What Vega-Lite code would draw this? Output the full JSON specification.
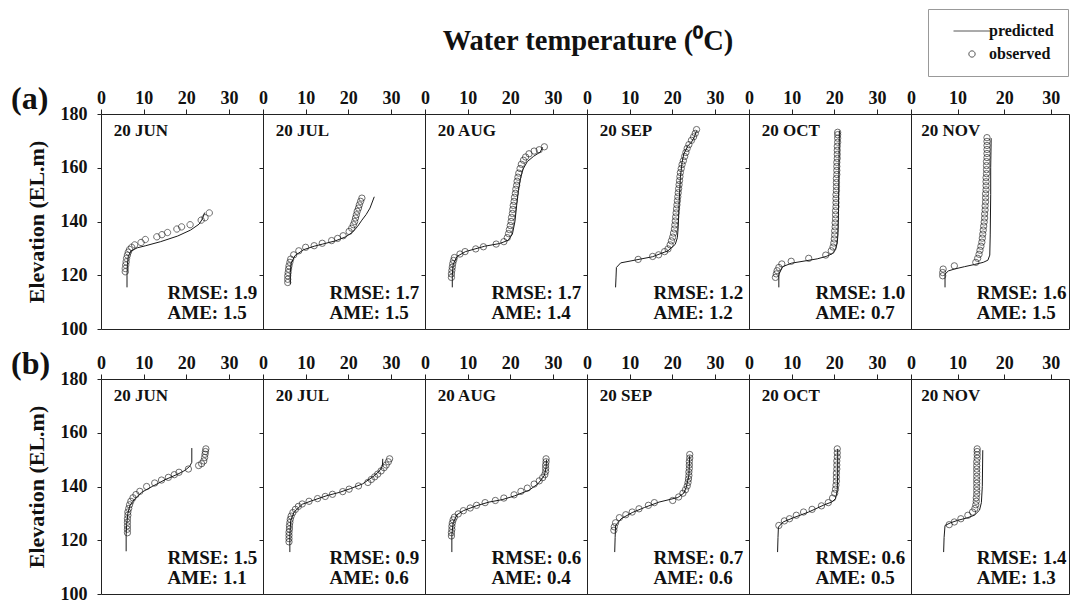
{
"$schema":"https://vega.github.io/schema/vega-lite/v6.json",
"background":"white",
"padding":{"left":10,"top":8,"right":0,"bottom":0},
"title":{"text":"Water temperature (⁰C)","fontSize":28.5,"font":"Liberation Serif","fontWeight":"bold","color":"#111","anchor":"middle","dx":48,"offset":-47},
"datasets":{
"aJUN":[
{"type":"obs","temp":5.7,"elev":121.3},{"type":"obs","temp":5.7,"elev":122.5},{"type":"obs","temp":5.8,"elev":123.8},{"type":"obs","temp":5.9,"elev":125},{"type":"obs","temp":6.0,"elev":126.3},{"type":"obs","temp":6.2,"elev":127.5},{"type":"obs","temp":6.4,"elev":128.6},{"type":"obs","temp":6.7,"elev":129.6},{"type":"obs","temp":7.2,"elev":130.4},{"type":"obs","temp":7.9,"elev":131.3},{"type":"obs","temp":9.4,"elev":132.2},{"type":"obs","temp":10.4,"elev":133.3},{"type":"obs","temp":13.1,"elev":134.3},{"type":"obs","temp":14.3,"elev":135.1},{"type":"obs","temp":15.6,"elev":135.9},{"type":"obs","temp":17.8,"elev":137.2},{"type":"obs","temp":18.9,"elev":138},{"type":"obs","temp":20.9,"elev":138.8},{"type":"obs","temp":23.5,"elev":140.5},{"type":"obs","temp":24.4,"elev":141.4},{"type":"obs","temp":25.4,"elev":143.2},
{"type":"pred","temp":6.1,"elev":115.5},{"type":"pred","temp":6.1,"elev":120},{"type":"pred","temp":6.2,"elev":124},{"type":"pred","temp":6.4,"elev":127},{"type":"pred","temp":7,"elev":129},{"type":"pred","temp":8.5,"elev":130.2},{"type":"pred","temp":10.5,"elev":131},{"type":"pred","temp":14,"elev":132.5},{"type":"pred","temp":18,"elev":134.6},{"type":"pred","temp":21,"elev":136.8},{"type":"pred","temp":23,"elev":139},{"type":"pred","temp":23.8,"elev":141},{"type":"pred","temp":24.3,"elev":143.3},
{"type":"label","month":"20 JUN","rmse":"RMSE: 1.9","ame":"AME: 1.5"}],
"aJUL":[
{"type":"obs","temp":5.8,"elev":117.3},{"type":"obs","temp":5.8,"elev":118.5},{"type":"obs","temp":5.8,"elev":119.8},{"type":"obs","temp":5.9,"elev":121},{"type":"obs","temp":6.0,"elev":122.3},{"type":"obs","temp":6.1,"elev":123.5},{"type":"obs","temp":6.3,"elev":124.8},{"type":"obs","temp":6.5,"elev":126},{"type":"obs","temp":7.2,"elev":127.6},{"type":"obs","temp":8.4,"elev":129.1},{"type":"obs","temp":10,"elev":130.4},{"type":"obs","temp":12,"elev":131},{"type":"obs","temp":13.9,"elev":131.9},{"type":"obs","temp":16.1,"elev":132.9},{"type":"obs","temp":17.5,"elev":133.7},{"type":"obs","temp":18.8,"elev":134.7},{"type":"obs","temp":20.2,"elev":136.3},{"type":"obs","temp":20.8,"elev":137.5},{"type":"obs","temp":21.2,"elev":138.8},{"type":"obs","temp":21.5,"elev":140},{"type":"obs","temp":21.7,"elev":141.3},{"type":"obs","temp":21.9,"elev":142.5},{"type":"obs","temp":22.1,"elev":143.8},{"type":"obs","temp":22.4,"elev":145},{"type":"obs","temp":22.6,"elev":146.2},{"type":"obs","temp":22.9,"elev":147.5},{"type":"obs","temp":23.2,"elev":148.7},
{"type":"pred","temp":6.4,"elev":116.7},{"type":"pred","temp":6.4,"elev":121},{"type":"pred","temp":6.6,"elev":124.5},{"type":"pred","temp":7.5,"elev":127.3},{"type":"pred","temp":9.5,"elev":129.5},{"type":"pred","temp":12,"elev":130.8},{"type":"pred","temp":14,"elev":131.6},{"type":"pred","temp":17,"elev":132.8},{"type":"pred","temp":19.4,"elev":134.3},{"type":"pred","temp":21,"elev":136},{"type":"pred","temp":22.2,"elev":138.2},{"type":"pred","temp":23.2,"elev":140.5},{"type":"pred","temp":24.2,"elev":142.6},{"type":"pred","temp":25.1,"elev":145},{"type":"pred","temp":26.1,"elev":149.2},
{"type":"label","month":"20 JUL","rmse":"RMSE: 1.7","ame":"AME: 1.5"}],
"aAUG":[
{"type":"obs","temp":6.2,"elev":119.2},{"type":"obs","temp":6.2,"elev":120.5},{"type":"obs","temp":6.3,"elev":121.8},{"type":"obs","temp":6.4,"elev":123},{"type":"obs","temp":6.5,"elev":124.3},{"type":"obs","temp":6.7,"elev":125.5},{"type":"obs","temp":6.9,"elev":126.6},{"type":"obs","temp":8.2,"elev":127.9},{"type":"obs","temp":9.4,"elev":128.8},{"type":"obs","temp":11.9,"elev":129.8},{"type":"obs","temp":13.7,"elev":130.6},{"type":"obs","temp":16.7,"elev":131.6},{"type":"obs","temp":18.5,"elev":132.5},{"type":"obs","temp":19.3,"elev":134},{"type":"obs","temp":19.6,"elev":135.5},{"type":"obs","temp":19.8,"elev":137},{"type":"obs","temp":20,"elev":138.5},{"type":"obs","temp":20.2,"elev":140},{"type":"obs","temp":20.3,"elev":141.5},{"type":"obs","temp":20.5,"elev":143},{"type":"obs","temp":20.6,"elev":144.5},{"type":"obs","temp":20.7,"elev":146},{"type":"obs","temp":20.9,"elev":147.5},{"type":"obs","temp":21,"elev":149},{"type":"obs","temp":21.2,"elev":150.5},{"type":"obs","temp":21.3,"elev":152},{"type":"obs","temp":21.5,"elev":153.5},{"type":"obs","temp":21.6,"elev":155},{"type":"obs","temp":21.8,"elev":156.5},{"type":"obs","temp":22,"elev":158},{"type":"obs","temp":22.3,"elev":159.7},{"type":"obs","temp":22.6,"elev":161.3},{"type":"obs","temp":23.1,"elev":162.8},{"type":"obs","temp":23.6,"elev":164},{"type":"obs","temp":24.4,"elev":165.2},{"type":"obs","temp":25.6,"elev":166.2},{"type":"obs","temp":26.8,"elev":166.7},{"type":"obs","temp":28,"elev":167.8},
{"type":"pred","temp":6.4,"elev":115.5},{"type":"pred","temp":6.4,"elev":120},{"type":"pred","temp":6.6,"elev":124},{"type":"pred","temp":7.5,"elev":127},{"type":"pred","temp":9.5,"elev":128.8},{"type":"pred","temp":14,"elev":130.8},{"type":"pred","temp":17.5,"elev":131.8},{"type":"pred","temp":19.5,"elev":133},{"type":"pred","temp":20.5,"elev":135.3},{"type":"pred","temp":21.1,"elev":140},{"type":"pred","temp":21.5,"elev":146},{"type":"pred","temp":21.9,"elev":151.5},{"type":"pred","temp":22.4,"elev":156},{"type":"pred","temp":23,"elev":159.5},{"type":"pred","temp":24,"elev":162.3},{"type":"pred","temp":25.5,"elev":164.3},{"type":"pred","temp":27,"elev":165.8},{"type":"pred","temp":27.6,"elev":167.6},
{"type":"label","month":"20 AUG","rmse":"RMSE: 1.7","ame":"AME: 1.4"}],
"aSEP":[
{"type":"obs","temp":12,"elev":125.9},{"type":"obs","temp":15.4,"elev":127},{"type":"obs","temp":16.8,"elev":127.6},{"type":"obs","temp":18.2,"elev":128.8},{"type":"obs","temp":19,"elev":129.8},{"type":"obs","temp":19.5,"elev":131.3},{"type":"obs","temp":19.8,"elev":132.8},{"type":"obs","temp":20.1,"elev":134.2},{"type":"obs","temp":20.3,"elev":135.7},{"type":"obs","temp":20.5,"elev":137.2},{"type":"obs","temp":20.6,"elev":138.7},{"type":"obs","temp":20.7,"elev":140.2},{"type":"obs","temp":20.8,"elev":141.7},{"type":"obs","temp":20.9,"elev":143.2},{"type":"obs","temp":21,"elev":144.7},{"type":"obs","temp":21.1,"elev":146.2},{"type":"obs","temp":21.2,"elev":147.7},{"type":"obs","temp":21.3,"elev":149.2},{"type":"obs","temp":21.4,"elev":150.7},{"type":"obs","temp":21.5,"elev":152.2},{"type":"obs","temp":21.6,"elev":153.7},{"type":"obs","temp":21.7,"elev":155.2},{"type":"obs","temp":21.8,"elev":156.7},{"type":"obs","temp":21.9,"elev":158.2},{"type":"obs","temp":22.1,"elev":159.7},{"type":"obs","temp":22.3,"elev":161.2},{"type":"obs","temp":22.6,"elev":162.6},{"type":"obs","temp":22.9,"elev":164.2},{"type":"obs","temp":23.2,"elev":165.7},{"type":"obs","temp":23.5,"elev":167.2},{"type":"obs","temp":23.9,"elev":168.6},{"type":"obs","temp":24.5,"elev":170.2},{"type":"obs","temp":25,"elev":171.5},{"type":"obs","temp":25.4,"elev":172.8},{"type":"obs","temp":25.7,"elev":174.2},
{"type":"pred","temp":6.7,"elev":115.5},{"type":"pred","temp":6.8,"elev":119},{"type":"pred","temp":6.9,"elev":122.9},{"type":"pred","temp":7.9,"elev":124.6},{"type":"pred","temp":11.5,"elev":125.7},{"type":"pred","temp":15.4,"elev":126.9},{"type":"pred","temp":19,"elev":129.1},{"type":"pred","temp":20.7,"elev":131.5},{"type":"pred","temp":21.2,"elev":134},{"type":"pred","temp":21.4,"elev":138},{"type":"pred","temp":21.6,"elev":146.5},{"type":"pred","temp":21.9,"elev":156.4},{"type":"pred","temp":22.3,"elev":162},{"type":"pred","temp":22.7,"elev":165.1},{"type":"pred","temp":23.7,"elev":168.2},{"type":"pred","temp":24.5,"elev":169.5},{"type":"pred","temp":25.2,"elev":171.5},{"type":"pred","temp":25.7,"elev":173.8},
{"type":"label","month":"20 SEP","rmse":"RMSE: 1.2","ame":"AME: 1.2"}],
"aOCT":[
{"type":"obs","temp":6.2,"elev":119.2},{"type":"obs","temp":6.4,"elev":120.5},{"type":"obs","temp":6.6,"elev":121.7},{"type":"obs","temp":7,"elev":122.9},{"type":"obs","temp":7.7,"elev":124.2},{"type":"obs","temp":9.9,"elev":125.2},{"type":"obs","temp":14,"elev":126.3},{"type":"obs","temp":18,"elev":127.5},{"type":"obs","temp":19.3,"elev":129.1},{"type":"obs","temp":19.7,"elev":130.5},{"type":"obs","temp":19.9,"elev":132},{"type":"obs","temp":20,"elev":133.5},{"type":"obs","temp":20.1,"elev":135},{"type":"obs","temp":20.1,"elev":136.5},{"type":"obs","temp":20.2,"elev":138},{"type":"obs","temp":20.2,"elev":139.5},{"type":"obs","temp":20.3,"elev":141},{"type":"obs","temp":20.3,"elev":142.5},{"type":"obs","temp":20.3,"elev":144},{"type":"obs","temp":20.4,"elev":145.5},{"type":"obs","temp":20.4,"elev":147},{"type":"obs","temp":20.4,"elev":148.5},{"type":"obs","temp":20.4,"elev":150},{"type":"obs","temp":20.5,"elev":151.5},{"type":"obs","temp":20.5,"elev":153},{"type":"obs","temp":20.5,"elev":154.5},{"type":"obs","temp":20.5,"elev":156},{"type":"obs","temp":20.6,"elev":157.5},{"type":"obs","temp":20.6,"elev":159},{"type":"obs","temp":20.6,"elev":160.5},{"type":"obs","temp":20.6,"elev":162},{"type":"obs","temp":20.7,"elev":163.5},{"type":"obs","temp":20.7,"elev":165},{"type":"obs","temp":20.7,"elev":166.5},{"type":"obs","temp":20.7,"elev":168},{"type":"obs","temp":20.8,"elev":169.5},{"type":"obs","temp":20.8,"elev":171},{"type":"obs","temp":20.8,"elev":172.3},{"type":"obs","temp":20.8,"elev":173.2},
{"type":"pred","temp":7,"elev":115.5},{"type":"pred","temp":7,"elev":120.4},{"type":"pred","temp":7.9,"elev":123.2},{"type":"pred","temp":10,"elev":124.5},{"type":"pred","temp":13.4,"elev":125.4},{"type":"pred","temp":16,"elev":126.1},{"type":"pred","temp":18.1,"elev":127},{"type":"pred","temp":19.5,"elev":128},{"type":"pred","temp":20.3,"elev":129.5},{"type":"pred","temp":20.7,"elev":132},{"type":"pred","temp":20.9,"elev":136},{"type":"pred","temp":21,"elev":145},{"type":"pred","temp":21.1,"elev":160},{"type":"pred","temp":21.2,"elev":173.8},
{"type":"label","month":"20 OCT","rmse":"RMSE: 1.0","ame":"AME: 0.7"}],
"aNOV":[
{"type":"obs","temp":6.8,"elev":119.8},{"type":"obs","temp":6.8,"elev":121},{"type":"obs","temp":6.9,"elev":122.3},{"type":"obs","temp":9.3,"elev":123.5},{"type":"obs","temp":13.9,"elev":124.8},{"type":"obs","temp":14.3,"elev":126.3},{"type":"obs","temp":14.6,"elev":127.8},{"type":"obs","temp":14.8,"elev":129.3},{"type":"obs","temp":15,"elev":130.8},{"type":"obs","temp":15.2,"elev":132.3},{"type":"obs","temp":15.3,"elev":133.8},{"type":"obs","temp":15.4,"elev":135.3},{"type":"obs","temp":15.5,"elev":136.8},{"type":"obs","temp":15.6,"elev":138.3},{"type":"obs","temp":15.7,"elev":139.8},{"type":"obs","temp":15.8,"elev":141.3},{"type":"obs","temp":15.8,"elev":142.8},{"type":"obs","temp":15.9,"elev":144.3},{"type":"obs","temp":15.9,"elev":145.8},{"type":"obs","temp":16,"elev":147.3},{"type":"obs","temp":16,"elev":148.8},{"type":"obs","temp":16,"elev":150.3},{"type":"obs","temp":16.1,"elev":151.8},{"type":"obs","temp":16.1,"elev":153.3},{"type":"obs","temp":16.1,"elev":154.8},{"type":"obs","temp":16.1,"elev":156.3},{"type":"obs","temp":16.2,"elev":157.8},{"type":"obs","temp":16.2,"elev":159.3},{"type":"obs","temp":16.2,"elev":160.8},{"type":"obs","temp":16.2,"elev":162.3},{"type":"obs","temp":16.3,"elev":163.8},{"type":"obs","temp":16.3,"elev":165.3},{"type":"obs","temp":16.3,"elev":166.8},{"type":"obs","temp":16.3,"elev":168.3},{"type":"obs","temp":16.3,"elev":169.8},{"type":"obs","temp":16.3,"elev":171.2},
{"type":"pred","temp":7.3,"elev":115.5},{"type":"pred","temp":7.3,"elev":120.4},{"type":"pred","temp":8,"elev":121.6},{"type":"pred","temp":9.3,"elev":122.3},{"type":"pred","temp":11.5,"elev":123.2},{"type":"pred","temp":13.6,"elev":124},{"type":"pred","temp":15.5,"elev":124.8},{"type":"pred","temp":16.5,"elev":125.6},{"type":"pred","temp":16.9,"elev":127.5},{"type":"pred","temp":17,"elev":135},{"type":"pred","temp":17.1,"elev":150},{"type":"pred","temp":17.1,"elev":160},{"type":"pred","temp":17.2,"elev":171},
{"type":"label","month":"20 NOV","rmse":"RMSE: 1.6","ame":"AME: 1.5"}],
"bJUN":[
{"type":"obs","temp":6.2,"elev":122.8},{"type":"obs","temp":6.2,"elev":124.1},{"type":"obs","temp":6.2,"elev":125.4},{"type":"obs","temp":6.2,"elev":126.7},{"type":"obs","temp":6.2,"elev":128},{"type":"obs","temp":6.3,"elev":129.3},{"type":"obs","temp":6.3,"elev":130.5},{"type":"obs","temp":6.5,"elev":131.8},{"type":"obs","temp":6.7,"elev":133.2},{"type":"obs","temp":7,"elev":134.5},{"type":"obs","temp":7.5,"elev":135.8},{"type":"obs","temp":8.2,"elev":137},{"type":"obs","temp":9.1,"elev":138.2},{"type":"obs","temp":10.7,"elev":140},{"type":"obs","temp":12.6,"elev":141.3},{"type":"obs","temp":14.2,"elev":142.4},{"type":"obs","temp":15.8,"elev":143.4},{"type":"obs","temp":17.2,"elev":144.4},{"type":"obs","temp":18.3,"elev":145.3},{"type":"obs","temp":20.5,"elev":146.5},{"type":"obs","temp":22.9,"elev":147.8},{"type":"obs","temp":23.6,"elev":148.5},{"type":"obs","temp":24.1,"elev":149.5},{"type":"obs","temp":24.3,"elev":150.8},{"type":"obs","temp":24.4,"elev":152},{"type":"obs","temp":24.5,"elev":153},{"type":"obs","temp":24.6,"elev":154},
{"type":"pred","temp":5.9,"elev":115.9},{"type":"pred","temp":5.9,"elev":122},{"type":"pred","temp":6,"elev":125.5},{"type":"pred","temp":6.3,"elev":130},{"type":"pred","temp":6.8,"elev":133},{"type":"pred","temp":8,"elev":135.5},{"type":"pred","temp":9.5,"elev":137.8},{"type":"pred","temp":12,"elev":140},{"type":"pred","temp":15,"elev":142.5},{"type":"pred","temp":18,"elev":144.6},{"type":"pred","temp":19.7,"elev":146},{"type":"pred","temp":20.8,"elev":147.5},{"type":"pred","temp":21.3,"elev":149},{"type":"pred","temp":21.3,"elev":154.3},
{"type":"label","month":"20 JUN","rmse":"RMSE: 1.5","ame":"AME: 1.1"}],
"bJUL":[
{"type":"obs","temp":6.1,"elev":119.4},{"type":"obs","temp":6.1,"elev":120.6},{"type":"obs","temp":6.1,"elev":121.8},{"type":"obs","temp":6.1,"elev":123},{"type":"obs","temp":6.2,"elev":124.2},{"type":"obs","temp":6.2,"elev":125.4},{"type":"obs","temp":6.3,"elev":126.6},{"type":"obs","temp":6.4,"elev":127.8},{"type":"obs","temp":6.6,"elev":129},{"type":"obs","temp":7,"elev":130.3},{"type":"obs","temp":7.6,"elev":131.5},{"type":"obs","temp":8.3,"elev":132.6},{"type":"obs","temp":9.2,"elev":133.5},{"type":"obs","temp":10.8,"elev":134.5},{"type":"obs","temp":12.8,"elev":135.5},{"type":"obs","temp":14.6,"elev":136.3},{"type":"obs","temp":16.3,"elev":137.1},{"type":"obs","temp":18.7,"elev":138.1},{"type":"obs","temp":20.2,"elev":139},{"type":"obs","temp":22.4,"elev":140.2},{"type":"obs","temp":24.6,"elev":141.5},{"type":"obs","temp":25.4,"elev":142.6},{"type":"obs","temp":26.2,"elev":143.6},{"type":"obs","temp":26.9,"elev":144.6},{"type":"obs","temp":27.7,"elev":145.8},{"type":"obs","temp":28.4,"elev":147},{"type":"obs","temp":28.9,"elev":148},{"type":"obs","temp":29.4,"elev":149.2},{"type":"obs","temp":29.7,"elev":150.3},
{"type":"pred","temp":6.3,"elev":115.6},{"type":"pred","temp":6.3,"elev":122},{"type":"pred","temp":6.5,"elev":127.4},{"type":"pred","temp":7.3,"elev":130.5},{"type":"pred","temp":9.2,"elev":133.4},{"type":"pred","temp":12,"elev":135},{"type":"pred","temp":15,"elev":136.6},{"type":"pred","temp":17.9,"elev":137.8},{"type":"pred","temp":20.5,"elev":139.2},{"type":"pred","temp":23.4,"elev":141},{"type":"pred","temp":26.1,"elev":144},{"type":"pred","temp":27.3,"elev":145.8},{"type":"pred","temp":28,"elev":147.5},{"type":"pred","temp":28.1,"elev":150.3},
{"type":"label","month":"20 JUL","rmse":"RMSE: 0.9","ame":"AME: 0.6"}],
"bAUG":[
{"type":"obs","temp":6.2,"elev":121.6},{"type":"obs","temp":6.2,"elev":122.8},{"type":"obs","temp":6.3,"elev":124},{"type":"obs","temp":6.3,"elev":125.2},{"type":"obs","temp":6.4,"elev":126.4},{"type":"obs","temp":6.6,"elev":127.6},{"type":"obs","temp":6.9,"elev":128.6},{"type":"obs","temp":7.8,"elev":129.8},{"type":"obs","temp":9,"elev":131},{"type":"obs","temp":10.6,"elev":132},{"type":"obs","temp":12.1,"elev":133},{"type":"obs","temp":14.1,"elev":134},{"type":"obs","temp":16.5,"elev":134.8},{"type":"obs","temp":18.5,"elev":135.7},{"type":"obs","temp":20.9,"elev":136.9},{"type":"obs","temp":22.5,"elev":138.2},{"type":"obs","temp":24,"elev":139.4},{"type":"obs","temp":25.6,"elev":140.9},{"type":"obs","temp":26.8,"elev":142.1},{"type":"obs","temp":27.6,"elev":143.3},{"type":"obs","temp":28.1,"elev":144.4},{"type":"obs","temp":28.3,"elev":145.6},{"type":"obs","temp":28.3,"elev":146.8},{"type":"obs","temp":28.3,"elev":148},{"type":"obs","temp":28.4,"elev":149.2},{"type":"obs","temp":28.4,"elev":150.3},
{"type":"pred","temp":6.3,"elev":115.6},{"type":"pred","temp":6.3,"elev":122},{"type":"pred","temp":6.6,"elev":126.5},{"type":"pred","temp":7.5,"elev":129.5},{"type":"pred","temp":9,"elev":131},{"type":"pred","temp":12,"elev":132.8},{"type":"pred","temp":15,"elev":134.2},{"type":"pred","temp":18.1,"elev":135.1},{"type":"pred","temp":21,"elev":136.5},{"type":"pred","temp":24.4,"elev":138.6},{"type":"pred","temp":26.5,"elev":141},{"type":"pred","temp":28,"elev":144.1},{"type":"pred","temp":28.4,"elev":147},{"type":"pred","temp":28.5,"elev":150},
{"type":"label","month":"20 AUG","rmse":"RMSE: 0.6","ame":"AME: 0.4"}],
"bSEP":[
{"type":"obs","temp":6.3,"elev":123.7},{"type":"obs","temp":6.4,"elev":125},{"type":"obs","temp":6.7,"elev":126.5},{"type":"obs","temp":7.6,"elev":128.4},{"type":"obs","temp":9.1,"elev":129.5},{"type":"obs","temp":10.6,"elev":130.5},{"type":"obs","temp":12.2,"elev":131.7},{"type":"obs","temp":14.4,"elev":133},{"type":"obs","temp":15.8,"elev":134},{"type":"obs","temp":20.1,"elev":134.8},{"type":"obs","temp":21.5,"elev":136.1},{"type":"obs","temp":22.5,"elev":137.5},{"type":"obs","temp":23.1,"elev":138.8},{"type":"obs","temp":23.5,"elev":140.2},{"type":"obs","temp":23.7,"elev":141.5},{"type":"obs","temp":23.8,"elev":142.8},{"type":"obs","temp":23.9,"elev":144.1},{"type":"obs","temp":23.9,"elev":145.4},{"type":"obs","temp":24,"elev":146.7},{"type":"obs","temp":24,"elev":148},{"type":"obs","temp":24,"elev":149.3},{"type":"obs","temp":24.1,"elev":150.6},{"type":"obs","temp":24.1,"elev":151.9},
{"type":"pred","temp":6.5,"elev":115.6},{"type":"pred","temp":6.6,"elev":121},{"type":"pred","temp":6.7,"elev":125.5},{"type":"pred","temp":8,"elev":128},{"type":"pred","temp":10.6,"elev":130.3},{"type":"pred","temp":13.5,"elev":132.2},{"type":"pred","temp":16.9,"elev":134.2},{"type":"pred","temp":19.5,"elev":135.2},{"type":"pred","temp":21.3,"elev":135.9},{"type":"pred","temp":22.7,"elev":137.5},{"type":"pred","temp":23.3,"elev":139.8},{"type":"pred","temp":23.9,"elev":144.1},{"type":"pred","temp":24.1,"elev":151.5},
{"type":"label","month":"20 SEP","rmse":"RMSE: 0.7","ame":"AME: 0.6"}],
"bOCT":[
{"type":"obs","temp":7,"elev":125.5},{"type":"obs","temp":8.3,"elev":127.2},{"type":"obs","temp":9.5,"elev":128},{"type":"obs","temp":11.1,"elev":129.3},{"type":"obs","temp":12.8,"elev":130.5},{"type":"obs","temp":14.8,"elev":131.5},{"type":"obs","temp":17,"elev":132.8},{"type":"obs","temp":18.6,"elev":134},{"type":"obs","temp":19.6,"elev":135.7},{"type":"obs","temp":20.1,"elev":137.5},{"type":"obs","temp":20.3,"elev":139},{"type":"obs","temp":20.4,"elev":140.5},{"type":"obs","temp":20.5,"elev":142},{"type":"obs","temp":20.5,"elev":143.5},{"type":"obs","temp":20.5,"elev":145},{"type":"obs","temp":20.6,"elev":146.5},{"type":"obs","temp":20.6,"elev":148},{"type":"obs","temp":20.6,"elev":149.5},{"type":"obs","temp":20.7,"elev":151},{"type":"obs","temp":20.7,"elev":152.5},{"type":"obs","temp":20.7,"elev":154},
{"type":"pred","temp":6.7,"elev":115.6},{"type":"pred","temp":6.8,"elev":121},{"type":"pred","temp":6.9,"elev":124.9},{"type":"pred","temp":8,"elev":126.8},{"type":"pred","temp":10.3,"elev":128.3},{"type":"pred","temp":14,"elev":130.5},{"type":"pred","temp":17.4,"elev":133},{"type":"pred","temp":19.5,"elev":134.3},{"type":"pred","temp":20.3,"elev":135.5},{"type":"pred","temp":20.7,"elev":138.5},{"type":"pred","temp":20.8,"elev":145},{"type":"pred","temp":20.8,"elev":154},
{"type":"label","month":"20 OCT","rmse":"RMSE: 0.6","ame":"AME: 0.5"}],
"bNOV":[
{"type":"obs","temp":8.2,"elev":125.8},{"type":"obs","temp":9.3,"elev":126.8},{"type":"obs","temp":10.7,"elev":128},{"type":"obs","temp":12.2,"elev":129.3},{"type":"obs","temp":13.2,"elev":130.5},{"type":"obs","temp":13.7,"elev":131.8},{"type":"obs","temp":13.9,"elev":133.2},{"type":"obs","temp":14,"elev":134.5},{"type":"obs","temp":14,"elev":135.8},{"type":"obs","temp":14.1,"elev":137.2},{"type":"obs","temp":14.1,"elev":138.5},{"type":"obs","temp":14.1,"elev":139.8},{"type":"obs","temp":14.1,"elev":141.2},{"type":"obs","temp":14.1,"elev":142.5},{"type":"obs","temp":14.1,"elev":143.8},{"type":"obs","temp":14.1,"elev":145.2},{"type":"obs","temp":14.1,"elev":146.5},{"type":"obs","temp":14.1,"elev":147.8},{"type":"obs","temp":14.1,"elev":149.2},{"type":"obs","temp":14.2,"elev":150.5},{"type":"obs","temp":14.2,"elev":151.8},{"type":"obs","temp":14.2,"elev":153},{"type":"obs","temp":14.2,"elev":154},
{"type":"pred","temp":7,"elev":115.6},{"type":"pred","temp":7.1,"elev":121},{"type":"pred","temp":7.3,"elev":125.5},{"type":"pred","temp":8.5,"elev":126.5},{"type":"pred","temp":10,"elev":127.4},{"type":"pred","temp":12,"elev":128.3},{"type":"pred","temp":13.6,"elev":129.3},{"type":"pred","temp":14.7,"elev":131.2},{"type":"pred","temp":15.1,"elev":134},{"type":"pred","temp":15.3,"elev":140},{"type":"pred","temp":15.4,"elev":153.5},
{"type":"label","month":"20 NOV","rmse":"RMSE: 1.4","ame":"AME: 1.3"}]
},
"spacing":8,
"vconcat":[
{"spacing":0,"bounds":"flush","hconcat":[
{"width":162,"height":215,"data":{"name":"aJUN"},"layer":[
{"transform":[{"filter":"datum.type==='pred'"}],"mark":{"type":"line","color":"#1a1a1a","strokeWidth":1},"encoding":{"x":{"field":"temp","type":"quantitative","scale":{"domain":[0,38],"nice":false,"zero":false},"axis":{"orient":"top","values":[0,10,20,30],"title":null,"tickSize":5,"labelPadding":2,"labelFlush":false}},"y":{"field":"elev","type":"quantitative","scale":{"domain":[100,180],"nice":false,"zero":false},"axis":{"values":[100,120,140,160,180],"title":"Elevation (EL.m)","tickSize":4,"labelPadding":10,"titlePadding":12}},"order":{"field":"elev","type":"quantitative"}}},
{"transform":[{"filter":"datum.type==='obs'"}],"mark":{"type":"point","filled":false,"color":"#1a1a1a","size":1369,"strokeWidth":0.9},"encoding":{"x":{"field":"temp","type":"quantitative"},"y":{"field":"elev","type":"quantitative"},"shape":{"datum":"observed","type":"nominal","scale":{"domain":["predicted","observed"],"range":["stroke","M0.171,0A0.171,0.171,0,1,1,-0.171,0A0.171,0.171,0,1,1,0.171,0Z"]},"legend":{"title":null,"orient":"none","legendX":827,"legendY":-105,"direction":"vertical","strokeColor":"#999","fillColor":"white","padding":14,"labelFont":"Liberation Serif","labelFontWeight":"bold","labelFontSize":16,"labelColor":"#111","labelBaseline":"middle","labelOffset":-2,"symbolSize":1369,"symbolOffset":11,"clipHeight":16,"symbolStrokeColor":"#111","symbolStrokeWidth":1,"symbolFillColor":"transparent","rowPadding":7}}}},
{"transform":[{"filter":"datum.type==='label'"}],"mark":{"type":"text","align":"left","fontSize":17},"encoding":{"x":{"datum":3},"y":{"datum":172},"text":{"field":"month"}}},
{"transform":[{"filter":"datum.type==='label'"}],"mark":{"type":"text","align":"left","fontSize":19},"encoding":{"x":{"datum":15.6},"y":{"datum":111.2},"text":{"field":"rmse"}}},
{"transform":[{"filter":"datum.type==='label'"}],"mark":{"type":"text","align":"left","fontSize":19},"encoding":{"x":{"datum":15.6},"y":{"datum":103.8},"text":{"field":"ame"}}},
{"transform":[{"filter":"datum.type==='label'"}],"mark":{"type":"text","align":"left","fontSize":32},"encoding":{"x":{"datum":-21.1},"y":{"datum":182},"text":{"value":"(a)"}}}
]},
{"width":162,"height":215,"data":{"name":"aJUL"},"layer":[
{"transform":[{"filter":"datum.type==='pred'"}],"mark":{"type":"line","color":"#1a1a1a","strokeWidth":1},"encoding":{"x":{"field":"temp","type":"quantitative","scale":{"domain":[0,38],"nice":false,"zero":false},"axis":{"orient":"top","values":[0,10,20,30],"title":null,"tickSize":5,"labelPadding":2,"labelFlush":false}},"y":{"field":"elev","type":"quantitative","scale":{"domain":[100,180],"nice":false,"zero":false},"axis":{"values":[100,120,140,160,180],"title":null,"labels":false,"tickSize":4}},"order":{"field":"elev","type":"quantitative"}}},
{"transform":[{"filter":"datum.type==='obs'"}],"mark":{"type":"point","shape":"circle","filled":false,"color":"#1a1a1a","size":40,"strokeWidth":0.9},"encoding":{"x":{"field":"temp","type":"quantitative"},"y":{"field":"elev","type":"quantitative"}}},
{"transform":[{"filter":"datum.type==='label'"}],"mark":{"type":"text","align":"left","fontSize":17},"encoding":{"x":{"datum":3},"y":{"datum":172},"text":{"field":"month"}}},
{"transform":[{"filter":"datum.type==='label'"}],"mark":{"type":"text","align":"left","fontSize":19},"encoding":{"x":{"datum":15.6},"y":{"datum":111.2},"text":{"field":"rmse"}}},
{"transform":[{"filter":"datum.type==='label'"}],"mark":{"type":"text","align":"left","fontSize":19},"encoding":{"x":{"datum":15.6},"y":{"datum":103.8},"text":{"field":"ame"}}}
]},
{"width":162,"height":215,"data":{"name":"aAUG"},"layer":[
{"transform":[{"filter":"datum.type==='pred'"}],"mark":{"type":"line","color":"#1a1a1a","strokeWidth":1},"encoding":{"x":{"field":"temp","type":"quantitative","scale":{"domain":[0,38],"nice":false,"zero":false},"axis":{"orient":"top","values":[0,10,20,30],"title":null,"tickSize":5,"labelPadding":2,"labelFlush":false}},"y":{"field":"elev","type":"quantitative","scale":{"domain":[100,180],"nice":false,"zero":false},"axis":{"values":[100,120,140,160,180],"title":null,"labels":false,"tickSize":4}},"order":{"field":"elev","type":"quantitative"}}},
{"transform":[{"filter":"datum.type==='obs'"}],"mark":{"type":"point","shape":"circle","filled":false,"color":"#1a1a1a","size":40,"strokeWidth":0.9},"encoding":{"x":{"field":"temp","type":"quantitative"},"y":{"field":"elev","type":"quantitative"}}},
{"transform":[{"filter":"datum.type==='label'"}],"mark":{"type":"text","align":"left","fontSize":17},"encoding":{"x":{"datum":3},"y":{"datum":172},"text":{"field":"month"}}},
{"transform":[{"filter":"datum.type==='label'"}],"mark":{"type":"text","align":"left","fontSize":19},"encoding":{"x":{"datum":15.6},"y":{"datum":111.2},"text":{"field":"rmse"}}},
{"transform":[{"filter":"datum.type==='label'"}],"mark":{"type":"text","align":"left","fontSize":19},"encoding":{"x":{"datum":15.6},"y":{"datum":103.8},"text":{"field":"ame"}}}
]},
{"width":162,"height":215,"data":{"name":"aSEP"},"layer":[
{"transform":[{"filter":"datum.type==='pred'"}],"mark":{"type":"line","color":"#1a1a1a","strokeWidth":1},"encoding":{"x":{"field":"temp","type":"quantitative","scale":{"domain":[0,38],"nice":false,"zero":false},"axis":{"orient":"top","values":[0,10,20,30],"title":null,"tickSize":5,"labelPadding":2,"labelFlush":false}},"y":{"field":"elev","type":"quantitative","scale":{"domain":[100,180],"nice":false,"zero":false},"axis":{"values":[100,120,140,160,180],"title":null,"labels":false,"tickSize":4}},"order":{"field":"elev","type":"quantitative"}}},
{"transform":[{"filter":"datum.type==='obs'"}],"mark":{"type":"point","shape":"circle","filled":false,"color":"#1a1a1a","size":40,"strokeWidth":0.9},"encoding":{"x":{"field":"temp","type":"quantitative"},"y":{"field":"elev","type":"quantitative"}}},
{"transform":[{"filter":"datum.type==='label'"}],"mark":{"type":"text","align":"left","fontSize":17},"encoding":{"x":{"datum":3},"y":{"datum":172},"text":{"field":"month"}}},
{"transform":[{"filter":"datum.type==='label'"}],"mark":{"type":"text","align":"left","fontSize":19},"encoding":{"x":{"datum":15.6},"y":{"datum":111.2},"text":{"field":"rmse"}}},
{"transform":[{"filter":"datum.type==='label'"}],"mark":{"type":"text","align":"left","fontSize":19},"encoding":{"x":{"datum":15.6},"y":{"datum":103.8},"text":{"field":"ame"}}}
]},
{"width":162,"height":215,"data":{"name":"aOCT"},"layer":[
{"transform":[{"filter":"datum.type==='pred'"}],"mark":{"type":"line","color":"#1a1a1a","strokeWidth":1},"encoding":{"x":{"field":"temp","type":"quantitative","scale":{"domain":[0,38],"nice":false,"zero":false},"axis":{"orient":"top","values":[0,10,20,30],"title":null,"tickSize":5,"labelPadding":2,"labelFlush":false}},"y":{"field":"elev","type":"quantitative","scale":{"domain":[100,180],"nice":false,"zero":false},"axis":{"values":[100,120,140,160,180],"title":null,"labels":false,"tickSize":4}},"order":{"field":"elev","type":"quantitative"}}},
{"transform":[{"filter":"datum.type==='obs'"}],"mark":{"type":"point","shape":"circle","filled":false,"color":"#1a1a1a","size":40,"strokeWidth":0.9},"encoding":{"x":{"field":"temp","type":"quantitative"},"y":{"field":"elev","type":"quantitative"}}},
{"transform":[{"filter":"datum.type==='label'"}],"mark":{"type":"text","align":"left","fontSize":17},"encoding":{"x":{"datum":3},"y":{"datum":172},"text":{"field":"month"}}},
{"transform":[{"filter":"datum.type==='label'"}],"mark":{"type":"text","align":"left","fontSize":19},"encoding":{"x":{"datum":15.6},"y":{"datum":111.2},"text":{"field":"rmse"}}},
{"transform":[{"filter":"datum.type==='label'"}],"mark":{"type":"text","align":"left","fontSize":19},"encoding":{"x":{"datum":15.6},"y":{"datum":103.8},"text":{"field":"ame"}}}
]},
{"width":158,"height":215,"data":{"name":"aNOV"},"layer":[
{"transform":[{"filter":"datum.type==='pred'"}],"mark":{"type":"line","color":"#1a1a1a","strokeWidth":1},"encoding":{"x":{"field":"temp","type":"quantitative","scale":{"domain":[0,33.9],"nice":false,"zero":false},"axis":{"orient":"top","values":[0,10,20,30],"title":null,"tickSize":5,"labelPadding":2,"labelFlush":false}},"y":{"field":"elev","type":"quantitative","scale":{"domain":[100,180],"nice":false,"zero":false},"axis":{"values":[100,120,140,160,180],"title":null,"labels":false,"tickSize":4}},"order":{"field":"elev","type":"quantitative"}}},
{"transform":[{"filter":"datum.type==='obs'"}],"mark":{"type":"point","shape":"circle","filled":false,"color":"#1a1a1a","size":40,"strokeWidth":0.9},"encoding":{"x":{"field":"temp","type":"quantitative"},"y":{"field":"elev","type":"quantitative"}}},
{"transform":[{"filter":"datum.type==='label'"}],"mark":{"type":"text","align":"left","fontSize":17},"encoding":{"x":{"datum":2.2},"y":{"datum":172},"text":{"field":"month"}}},
{"transform":[{"filter":"datum.type==='label'"}],"mark":{"type":"text","align":"left","fontSize":19},"encoding":{"x":{"datum":14.1},"y":{"datum":111.2},"text":{"field":"rmse"}}},
{"transform":[{"filter":"datum.type==='label'"}],"mark":{"type":"text","align":"left","fontSize":19},"encoding":{"x":{"datum":14.1},"y":{"datum":103.8},"text":{"field":"ame"}}}
]}
]},
{"spacing":0,"bounds":"flush","hconcat":[
{"width":162,"height":215,"data":{"name":"bJUN"},"layer":[
{"transform":[{"filter":"datum.type==='pred'"}],"mark":{"type":"line","color":"#1a1a1a","strokeWidth":1},"encoding":{"x":{"field":"temp","type":"quantitative","scale":{"domain":[0,38],"nice":false,"zero":false},"axis":{"orient":"top","values":[0,10,20,30],"title":null,"tickSize":5,"labelPadding":2,"labelFlush":false}},"y":{"field":"elev","type":"quantitative","scale":{"domain":[100,180],"nice":false,"zero":false},"axis":{"values":[100,120,140,160,180],"title":"Elevation (EL.m)","tickSize":4,"labelPadding":10,"titlePadding":12}},"order":{"field":"elev","type":"quantitative"}}},
{"transform":[{"filter":"datum.type==='obs'"}],"mark":{"type":"point","shape":"circle","filled":false,"color":"#1a1a1a","size":40,"strokeWidth":0.9},"encoding":{"x":{"field":"temp","type":"quantitative"},"y":{"field":"elev","type":"quantitative"}}},
{"transform":[{"filter":"datum.type==='label'"}],"mark":{"type":"text","align":"left","fontSize":17},"encoding":{"x":{"datum":3},"y":{"datum":172},"text":{"field":"month"}}},
{"transform":[{"filter":"datum.type==='label'"}],"mark":{"type":"text","align":"left","fontSize":19},"encoding":{"x":{"datum":15.6},"y":{"datum":111.2},"text":{"field":"rmse"}}},
{"transform":[{"filter":"datum.type==='label'"}],"mark":{"type":"text","align":"left","fontSize":19},"encoding":{"x":{"datum":15.6},"y":{"datum":103.8},"text":{"field":"ame"}}},
{"transform":[{"filter":"datum.type==='label'"}],"mark":{"type":"text","align":"left","fontSize":32},"encoding":{"x":{"datum":-21.1},"y":{"datum":182},"text":{"value":"(b)"}}}
]},
{"width":162,"height":215,"data":{"name":"bJUL"},"layer":[
{"transform":[{"filter":"datum.type==='pred'"}],"mark":{"type":"line","color":"#1a1a1a","strokeWidth":1},"encoding":{"x":{"field":"temp","type":"quantitative","scale":{"domain":[0,38],"nice":false,"zero":false},"axis":{"orient":"top","values":[0,10,20,30],"title":null,"tickSize":5,"labelPadding":2,"labelFlush":false}},"y":{"field":"elev","type":"quantitative","scale":{"domain":[100,180],"nice":false,"zero":false},"axis":{"values":[100,120,140,160,180],"title":null,"labels":false,"tickSize":4}},"order":{"field":"elev","type":"quantitative"}}},
{"transform":[{"filter":"datum.type==='obs'"}],"mark":{"type":"point","shape":"circle","filled":false,"color":"#1a1a1a","size":40,"strokeWidth":0.9},"encoding":{"x":{"field":"temp","type":"quantitative"},"y":{"field":"elev","type":"quantitative"}}},
{"transform":[{"filter":"datum.type==='label'"}],"mark":{"type":"text","align":"left","fontSize":17},"encoding":{"x":{"datum":3},"y":{"datum":172},"text":{"field":"month"}}},
{"transform":[{"filter":"datum.type==='label'"}],"mark":{"type":"text","align":"left","fontSize":19},"encoding":{"x":{"datum":15.6},"y":{"datum":111.2},"text":{"field":"rmse"}}},
{"transform":[{"filter":"datum.type==='label'"}],"mark":{"type":"text","align":"left","fontSize":19},"encoding":{"x":{"datum":15.6},"y":{"datum":103.8},"text":{"field":"ame"}}}
]},
{"width":162,"height":215,"data":{"name":"bAUG"},"layer":[
{"transform":[{"filter":"datum.type==='pred'"}],"mark":{"type":"line","color":"#1a1a1a","strokeWidth":1},"encoding":{"x":{"field":"temp","type":"quantitative","scale":{"domain":[0,38],"nice":false,"zero":false},"axis":{"orient":"top","values":[0,10,20,30],"title":null,"tickSize":5,"labelPadding":2,"labelFlush":false}},"y":{"field":"elev","type":"quantitative","scale":{"domain":[100,180],"nice":false,"zero":false},"axis":{"values":[100,120,140,160,180],"title":null,"labels":false,"tickSize":4}},"order":{"field":"elev","type":"quantitative"}}},
{"transform":[{"filter":"datum.type==='obs'"}],"mark":{"type":"point","shape":"circle","filled":false,"color":"#1a1a1a","size":40,"strokeWidth":0.9},"encoding":{"x":{"field":"temp","type":"quantitative"},"y":{"field":"elev","type":"quantitative"}}},
{"transform":[{"filter":"datum.type==='label'"}],"mark":{"type":"text","align":"left","fontSize":17},"encoding":{"x":{"datum":3},"y":{"datum":172},"text":{"field":"month"}}},
{"transform":[{"filter":"datum.type==='label'"}],"mark":{"type":"text","align":"left","fontSize":19},"encoding":{"x":{"datum":15.6},"y":{"datum":111.2},"text":{"field":"rmse"}}},
{"transform":[{"filter":"datum.type==='label'"}],"mark":{"type":"text","align":"left","fontSize":19},"encoding":{"x":{"datum":15.6},"y":{"datum":103.8},"text":{"field":"ame"}}}
]},
{"width":162,"height":215,"data":{"name":"bSEP"},"layer":[
{"transform":[{"filter":"datum.type==='pred'"}],"mark":{"type":"line","color":"#1a1a1a","strokeWidth":1},"encoding":{"x":{"field":"temp","type":"quantitative","scale":{"domain":[0,38],"nice":false,"zero":false},"axis":{"orient":"top","values":[0,10,20,30],"title":null,"tickSize":5,"labelPadding":2,"labelFlush":false}},"y":{"field":"elev","type":"quantitative","scale":{"domain":[100,180],"nice":false,"zero":false},"axis":{"values":[100,120,140,160,180],"title":null,"labels":false,"tickSize":4}},"order":{"field":"elev","type":"quantitative"}}},
{"transform":[{"filter":"datum.type==='obs'"}],"mark":{"type":"point","shape":"circle","filled":false,"color":"#1a1a1a","size":40,"strokeWidth":0.9},"encoding":{"x":{"field":"temp","type":"quantitative"},"y":{"field":"elev","type":"quantitative"}}},
{"transform":[{"filter":"datum.type==='label'"}],"mark":{"type":"text","align":"left","fontSize":17},"encoding":{"x":{"datum":3},"y":{"datum":172},"text":{"field":"month"}}},
{"transform":[{"filter":"datum.type==='label'"}],"mark":{"type":"text","align":"left","fontSize":19},"encoding":{"x":{"datum":15.6},"y":{"datum":111.2},"text":{"field":"rmse"}}},
{"transform":[{"filter":"datum.type==='label'"}],"mark":{"type":"text","align":"left","fontSize":19},"encoding":{"x":{"datum":15.6},"y":{"datum":103.8},"text":{"field":"ame"}}}
]},
{"width":162,"height":215,"data":{"name":"bOCT"},"layer":[
{"transform":[{"filter":"datum.type==='pred'"}],"mark":{"type":"line","color":"#1a1a1a","strokeWidth":1},"encoding":{"x":{"field":"temp","type":"quantitative","scale":{"domain":[0,38],"nice":false,"zero":false},"axis":{"orient":"top","values":[0,10,20,30],"title":null,"tickSize":5,"labelPadding":2,"labelFlush":false}},"y":{"field":"elev","type":"quantitative","scale":{"domain":[100,180],"nice":false,"zero":false},"axis":{"values":[100,120,140,160,180],"title":null,"labels":false,"tickSize":4}},"order":{"field":"elev","type":"quantitative"}}},
{"transform":[{"filter":"datum.type==='obs'"}],"mark":{"type":"point","shape":"circle","filled":false,"color":"#1a1a1a","size":40,"strokeWidth":0.9},"encoding":{"x":{"field":"temp","type":"quantitative"},"y":{"field":"elev","type":"quantitative"}}},
{"transform":[{"filter":"datum.type==='label'"}],"mark":{"type":"text","align":"left","fontSize":17},"encoding":{"x":{"datum":3},"y":{"datum":172},"text":{"field":"month"}}},
{"transform":[{"filter":"datum.type==='label'"}],"mark":{"type":"text","align":"left","fontSize":19},"encoding":{"x":{"datum":15.6},"y":{"datum":111.2},"text":{"field":"rmse"}}},
{"transform":[{"filter":"datum.type==='label'"}],"mark":{"type":"text","align":"left","fontSize":19},"encoding":{"x":{"datum":15.6},"y":{"datum":103.8},"text":{"field":"ame"}}}
]},
{"width":158,"height":215,"data":{"name":"bNOV"},"layer":[
{"transform":[{"filter":"datum.type==='pred'"}],"mark":{"type":"line","color":"#1a1a1a","strokeWidth":1},"encoding":{"x":{"field":"temp","type":"quantitative","scale":{"domain":[0,33.9],"nice":false,"zero":false},"axis":{"orient":"top","values":[0,10,20,30],"title":null,"tickSize":5,"labelPadding":2,"labelFlush":false}},"y":{"field":"elev","type":"quantitative","scale":{"domain":[100,180],"nice":false,"zero":false},"axis":{"values":[100,120,140,160,180],"title":null,"labels":false,"tickSize":4}},"order":{"field":"elev","type":"quantitative"}}},
{"transform":[{"filter":"datum.type==='obs'"}],"mark":{"type":"point","shape":"circle","filled":false,"color":"#1a1a1a","size":40,"strokeWidth":0.9},"encoding":{"x":{"field":"temp","type":"quantitative"},"y":{"field":"elev","type":"quantitative"}}},
{"transform":[{"filter":"datum.type==='label'"}],"mark":{"type":"text","align":"left","fontSize":17},"encoding":{"x":{"datum":2.2},"y":{"datum":172},"text":{"field":"month"}}},
{"transform":[{"filter":"datum.type==='label'"}],"mark":{"type":"text","align":"left","fontSize":19},"encoding":{"x":{"datum":14.1},"y":{"datum":111.2},"text":{"field":"rmse"}}},
{"transform":[{"filter":"datum.type==='label'"}],"mark":{"type":"text","align":"left","fontSize":19},"encoding":{"x":{"datum":14.1},"y":{"datum":103.8},"text":{"field":"ame"}}}
]}
]}
],
"config":{
"font":"Liberation Serif",
"view":{"stroke":"#222","strokeWidth":1},
"axis":{"domain":false,"grid":false,"labelFont":"Liberation Serif","labelFontWeight":"bold","labelFontSize":18,"labelColor":"#111","tickColor":"#222","tickWidth":1,"titleFont":"Liberation Serif","titleFontWeight":"bold","titleFontSize":22,"titleColor":"#111","labelOverlap":false},
"text":{"baseline":"alphabetic","font":"Liberation Serif","fontWeight":"bold","color":"#111"}
}
}
